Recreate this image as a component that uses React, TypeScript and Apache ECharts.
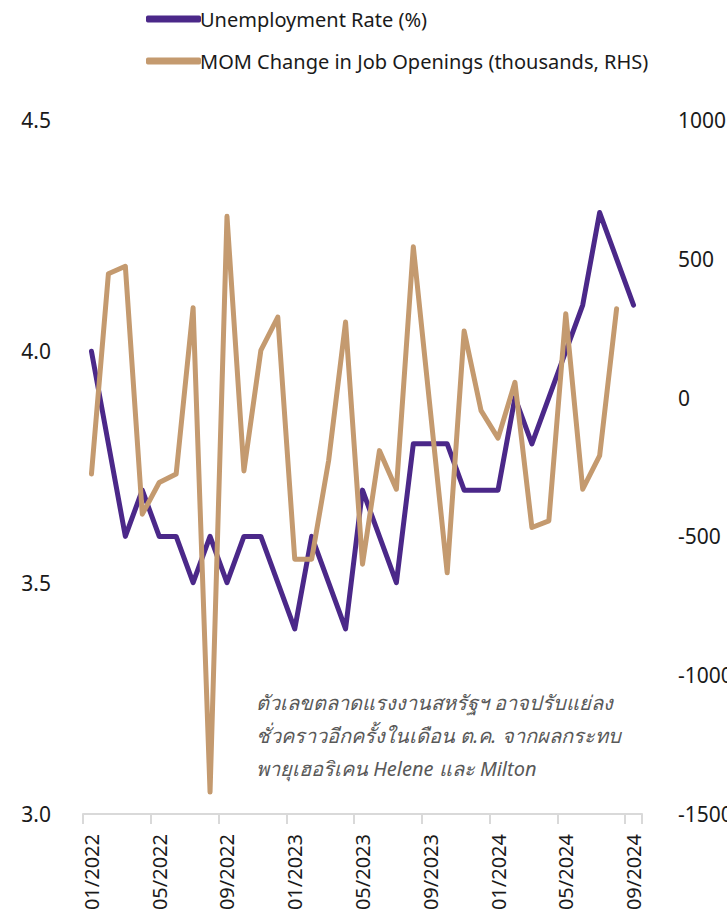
import React, { useEffect, useRef } from "react";
import * as echarts from "echarts";

const months: string[] = [
  "01/2022", "02/2022", "03/2022", "04/2022", "05/2022", "06/2022", "07/2022", "08/2022", "09/2022", "10/2022", "11/2022", "12/2022",
  "01/2023", "02/2023", "03/2023", "04/2023", "05/2023", "06/2023", "07/2023", "08/2023", "09/2023", "10/2023", "11/2023", "12/2023",
  "01/2024", "02/2024", "03/2024", "04/2024", "05/2024", "06/2024", "07/2024", "08/2024", "09/2024",
];

const unemploymentRate: number[] = [
  4.0, 3.8, 3.6, 3.7, 3.6, 3.6, 3.5, 3.6, 3.5, 3.6, 3.6, 3.5,
  3.4, 3.6, 3.5, 3.4, 3.7, 3.6, 3.5, 3.8, 3.8, 3.8, 3.7, 3.7,
  3.7, 3.9, 3.8, 3.9, 4.0, 4.1, 4.3, 4.2, 4.1,
];

const jobOpeningsChange: number[] = [
  -275, 446, 473, -420, -306, -275, 324, -1421, 653, -264, 170, 290,
  -582, -582, -227, 272, -600, -191, -330, 543, -44, -631, 240, -47,
  -146, 55, -468, -444, 302, -330, -209, 320,
];

const seriesNames: string[] = ["Unemployment Rate (%)", "MOM Change in Job Openings (thousands, RHS)"];

const noteLines: string[] = [
  "ตัวเลขตลาดแรงงานสหรัฐฯ อาจปรับแย่ลง",
  "ชั่วคราวอีกครั้งในเดือน ต.ค. จากผลกระทบ",
  "พายุเฮอริเคน Helene และ Milton",
];

const PURPLE = "#4B2889";
const TAN = "#C49A6F";
const FONT = "'Noto Sans', 'DejaVu Sans', sans-serif";

export default function App() {
  const ref = useRef<HTMLDivElement>(null);

  useEffect(() => {
    if (!ref.current) return;
    const chart = echarts.init(ref.current, null, { renderer: "svg" });
    chart.setOption({
      animation: false,
      textStyle: { fontFamily: FONT },
      legend: {
        orient: "vertical",
        left: 141,
        top: 4,
        itemWidth: 55,
        itemHeight: 7,
        itemGap: 22,
        icon: "roundRect",
        textStyle: { fontSize: 20, color: "#1a1a1a", fontFamily: FONT, padding: [0, 0, 0, -6] },
        data: seriesNames,
      },
      grid: {
        left: 83,
        right: 85,
        top: 120,
        bottom: 107,
        containLabel: false,
        outerBoundsMode: "none",
      },
      xAxis: {
        type: "category",
        data: months,
        boundaryGap: true,
        axisLine: { show: true, onZero: false, lineStyle: { color: "#d9d9d9", width: 2 } },
        axisTick: { show: true, interval: 3, length: 10, lineStyle: { color: "#d9d9d9", width: 2 } },
        axisLabel: { interval: 3, rotate: 90, fontSize: 20, color: "#1a1a1a", margin: 20, fontFamily: FONT },
        splitLine: { show: false },
      },
      yAxis: [
        {
          type: "value",
          min: 3,
          max: 4.5,
          interval: 0.5,
          position: "left",
          axisLine: { show: false },
          axisTick: { show: false },
          splitLine: { show: false },
          axisLabel: {
            fontSize: 21,
            color: "#1a1a1a",
            margin: 32,
            fontFamily: FONT,
            formatter: (v: number) => v.toFixed(1),
          },
        },
        {
          type: "value",
          min: -1500,
          max: 1000,
          interval: 500,
          position: "right",
          axisLine: { show: false },
          axisTick: { show: false },
          splitLine: { show: false },
          axisLabel: {
            fontSize: 21,
            color: "#1a1a1a",
            margin: 36,
            fontFamily: FONT,
            formatter: (v: number) => String(v),
          },
        },
      ],
      series: [
        {
          name: seriesNames[0],
          type: "line",
          yAxisIndex: 0,
          data: unemploymentRate,
          showSymbol: false,
          symbol: "none",
          lineStyle: { color: PURPLE, width: 5, cap: "round", join: "round" },
          itemStyle: { color: PURPLE },
          z: 2,
        },
        {
          name: seriesNames[1],
          type: "line",
          yAxisIndex: 1,
          data: jobOpeningsChange,
          showSymbol: false,
          symbol: "none",
          lineStyle: { color: TAN, width: 5, cap: "round", join: "round" },
          itemStyle: { color: TAN },
          z: 3,
        },
      ],
      graphic: [
        {
          type: "text",
          left: 256,
          top: 686,
          style: {
            text: noteLines.join("\n"),
            fill: "#595959",
            fontSize: 20,
            fontStyle: "italic",
            fontFamily: FONT,
            lineHeight: 33,
          },
        },
      ],
    });
    return () => chart.dispose();
  }, []);

  return <div ref={ref} style={{ width: 727, height: 921, position: "absolute", left: 0, top: 0 }} />;
}
